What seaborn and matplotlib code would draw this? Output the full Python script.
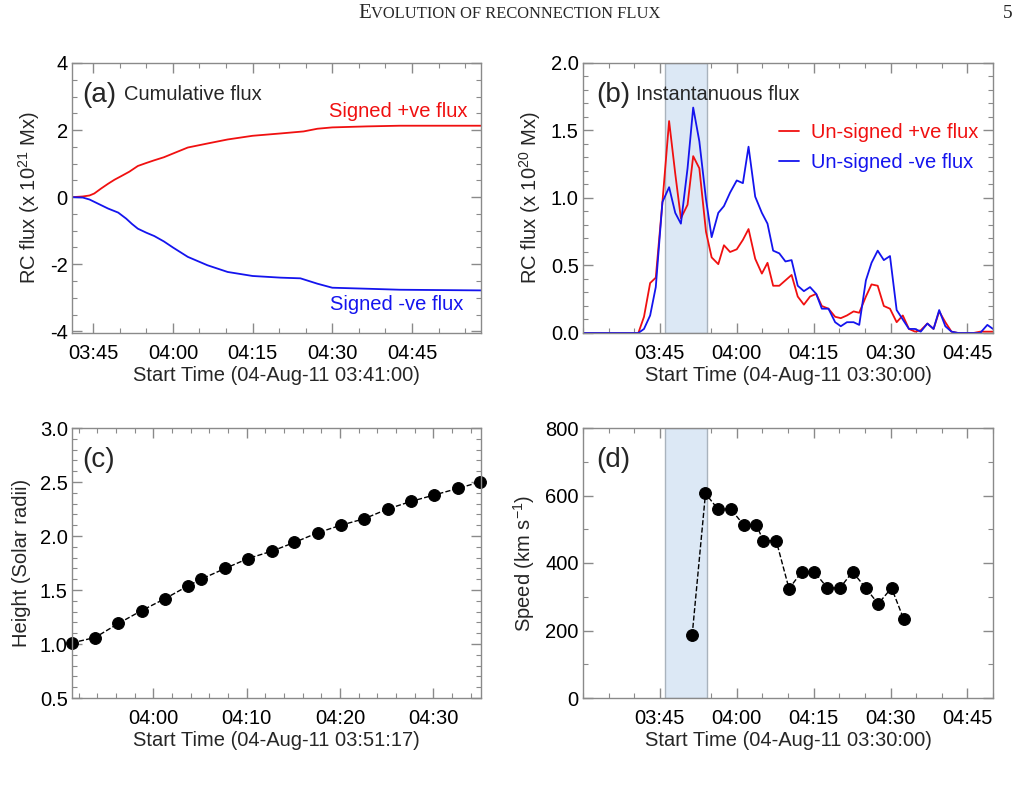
import matplotlib
matplotlib.use("Agg")
import matplotlib.pyplot as plt
from matplotlib.ticker import MultipleLocator, FixedLocator, FuncFormatter
import seaborn as sns

# times are minutes after 03:00 UT on 04-Aug-2011

# (a) cumulative flux (x 1e21 Mx)
a_time_pos = [41.0, 43.0, 44.3, 45.2, 46.5, 47.8, 49.0, 50.3, 51.8, 53.4, 55.0, 56.5,
              58.3, 60.0, 62.8, 66.5, 70.3, 75.0, 80.3, 84.6, 87.2, 90.0, 96.5, 102.7,
              118.0]
a_flux_pos = [0.0, 0.02, 0.05, 0.11, 0.26, 0.40, 0.52, 0.63, 0.76, 0.93, 1.02, 1.10,
              1.19, 1.30, 1.48, 1.60, 1.72, 1.83, 1.90, 1.96, 2.04, 2.08, 2.11, 2.13,
              2.13]
a_time_neg = [41.0, 43.0, 44.3, 46.5, 47.8, 49.7, 51.2, 52.3, 53.4, 55.0, 56.5, 58.3,
              60.0, 62.8, 66.5, 70.3, 75.0, 80.3, 84.0, 87.2, 90.0, 96.5, 102.7, 118.0]
a_flux_neg = [0.0, -0.01, -0.07, -0.24, -0.34, -0.46, -0.64, -0.80, -0.94, -1.06, -1.16,
              -1.32, -1.50, -1.78, -2.03, -2.23, -2.35, -2.40, -2.42, -2.58, -2.70, -2.73,
              -2.76, -2.78]

# (b) instantaneous flux (x 1e20 Mx)
b_time = [30.0, 39.6, 40.8, 41.9, 43.1, 44.2, 45.5, 46.8, 48.0, 49.1, 50.4, 51.5, 52.7,
          54.0, 55.1, 56.4, 57.5, 58.7, 60.0, 61.2, 62.3, 63.6, 64.9, 66.0, 67.1, 68.3,
          69.5, 70.7, 71.9, 73.1, 74.3, 75.5, 76.6, 77.9, 79.2, 80.3, 81.5, 82.8, 83.9,
          85.2, 86.3, 87.5, 88.7, 89.9, 91.2, 92.4, 93.6, 94.8, 95.9, 97.2, 98.4, 99.5,
          100.7, 101.9, 103.2, 104.9, 106.2, 107.5, 108.9, 110.0]
b_flux_pos = [0.0, 0.0, 0.0, 0.12, 0.37, 0.41, 0.97, 1.57, 1.18, 0.85, 0.95, 1.31, 1.22,
              0.75, 0.56, 0.51, 0.65, 0.60, 0.62, 0.69, 0.77, 0.55, 0.44, 0.52, 0.35, 0.35,
              0.39, 0.43, 0.27, 0.21, 0.27, 0.29, 0.20, 0.18, 0.12, 0.11, 0.13, 0.16, 0.15,
              0.27, 0.36, 0.35, 0.20, 0.18, 0.08, 0.13, 0.03, 0.01, 0.02, 0.07, 0.03, 0.16,
              0.08, 0.01, 0.0, 0.0, 0.0, 0.01, 0.01, 0.01]
b_flux_neg = [0.0, 0.0, 0.0, 0.03, 0.13, 0.34, 0.97, 1.08, 0.89, 0.81, 1.22, 1.67, 1.42,
              0.99, 0.71, 0.89, 0.94, 1.04, 1.13, 1.11, 1.38, 1.01, 0.89, 0.81, 0.61, 0.59,
              0.53, 0.54, 0.35, 0.31, 0.34, 0.29, 0.18, 0.18, 0.08, 0.05, 0.08, 0.08, 0.06,
              0.39, 0.52, 0.61, 0.54, 0.57, 0.17, 0.10, 0.03, 0.03, 0.01, 0.07, 0.03, 0.17,
              0.05, 0.01, 0.0, 0.0, 0.0, 0.0, 0.06, 0.03]

# (c) height-time
c_time = [51.25, 53.75, 56.25, 58.75, 61.25, 63.75, 65.1, 67.7, 70.1, 72.7, 75.1, 77.6,
          80.1, 82.6, 85.1, 87.6, 90.1, 92.6, 95.0]
c_height = [1.01, 1.06, 1.19, 1.31, 1.42, 1.54, 1.60, 1.70, 1.79, 1.86, 1.94, 2.03,
            2.10, 2.16, 2.25, 2.32, 2.38, 2.44, 2.50]

# (d) speed
d_time = [51.3, 53.9, 56.3, 58.8, 61.35, 63.8, 65.2, 67.7, 70.2, 72.7, 75.1, 77.7,
          80.15, 82.6, 85.15, 87.6, 90.2, 92.6]
d_speed = [186, 606, 560, 560, 513, 513, 466, 466, 324, 374, 374, 326, 326, 374, 326,
           279, 326, 233]

shade_span = (46.0, 54.1)

sns.set_style("ticks")
plt.rcParams["font.family"] = ["Liberation Sans", "DejaVu Sans"]
plt.rcParams["mathtext.fontset"] = "custom"
plt.rcParams["mathtext.rm"] = "Liberation Sans"
plt.rcParams["mathtext.it"] = "Liberation Sans"

RED = "#f01010"
BLUE = "#1414ee"
FRAME = "#8a8a8a"
FS = 14.5

W, H = 1018, 791
fig = plt.figure(figsize=(W / 100, H / 100), dpi=100)


def box(l, r, t, b):
    return [l / W, 1 - b / H, (r - l) / W, (b - t) / H]


def hhmm(v, pos):
    m = int(round(v))
    return f"{3 + m // 60:02d}:{m % 60:02d}"


def style(ax, xmaj, xmin, ymin_step, xlabel, ylabel):
    for s in ax.spines.values():
        s.set_color(FRAME)
        s.set_linewidth(1.0)
    ax.xaxis.set_major_locator(FixedLocator(xmaj))
    ax.xaxis.set_major_formatter(FuncFormatter(hhmm))
    ax.xaxis.set_minor_locator(MultipleLocator(xmin))
    ax.yaxis.set_minor_locator(MultipleLocator(ymin_step))
    ax.tick_params(which="both", direction="in", top=True, right=True, color=FRAME,
                   labelsize=FS, labelcolor="black")
    ax.tick_params(which="major", length=7, width=1)
    ax.tick_params(which="minor", length=3.5, width=0.8)
    ax.tick_params(axis="x", pad=8)
    ax.tick_params(axis="y", pad=3)
    ax.set_xlabel(xlabel, fontsize=FS, labelpad=2)
    ax.set_ylabel(ylabel, fontsize=FS, labelpad=6)


# (a)
ax = fig.add_axes(box(72, 481, 63, 333))
sns.lineplot(x=a_time_pos, y=a_flux_pos, ax=ax, color=RED, lw=1.3)
sns.lineplot(x=a_time_neg, y=a_flux_neg, ax=ax, color=BLUE, lw=1.3)
ax.set_xlim(41, 118)
ax.set_ylim(-4.05, 4.0)
ax.set_yticks([-4, -2, 0, 2, 4])
ax.set_yticklabels(["-4", "-2", "0", "2", "4"])
style(ax, [45, 60, 75, 90, 105], 5, 0.5, "Start Time (04-Aug-11 03:41:00)",
      "RC flux (x 10$^{21}$ Mx)")
ax.text(0.024, 0.88, "(a)", transform=ax.transAxes, fontsize=20, va="center")
ax.text(0.127, 0.885, "Cumulative flux", transform=ax.transAxes, fontsize=14.5,
        va="center")
ax.text(0.968, 0.822, "Signed +ve flux", transform=ax.transAxes, fontsize=FS,
        color=RED, ha="right", va="center")
ax.text(0.956, 0.104, "Signed -ve flux", transform=ax.transAxes, fontsize=FS,
        color=BLUE, ha="right", va="center")

# (b)
ax = fig.add_axes(box(583, 993, 63, 333))
ax.axvspan(*shade_span, facecolor="#dce8f5", edgecolor="#a9b3bd", lw=1)
sns.lineplot(x=b_time, y=b_flux_pos, ax=ax, color=RED, lw=1.3, label="Un-signed +ve flux")
sns.lineplot(x=b_time, y=b_flux_neg, ax=ax, color=BLUE, lw=1.3, label="Un-signed -ve flux")
ax.set_xlim(30, 110)
ax.set_ylim(0, 2.0)
ax.set_yticks([0, 0.5, 1.0, 1.5, 2.0])
ax.set_yticklabels(["0.0", "0.5", "1.0", "1.5", "2.0"])
style(ax, [45, 60, 75, 90, 105], 5, 0.1, "Start Time (04-Aug-11 03:30:00)",
      "RC flux (x 10$^{20}$ Mx)")
ax.legend(loc="upper left", bbox_to_anchor=(0.433, 0.845), frameon=False, fontsize=FS,
          labelcolor="linecolor", handlelength=1.0, handletextpad=0.6, labelspacing=0.55)
ax.text(0.032, 0.88, "(b)", transform=ax.transAxes, fontsize=20, va="center")
ax.text(0.129, 0.885, "Instantanuous flux", transform=ax.transAxes, fontsize=14.5,
        va="center")

# (c)
ax = fig.add_axes(box(72, 481, 428, 698))
sns.lineplot(x=c_time, y=c_height, ax=ax, color="black", lw=1, linestyle="--",
             marker="o", markersize=8.5, markeredgecolor="black", clip_on=False)
ax.set_xlim(51.28, 95.1)
ax.set_ylim(0.5, 3.0)
ax.set_yticks([0.5, 1.0, 1.5, 2.0, 2.5, 3.0])
ax.set_yticklabels(["0.5", "1.0", "1.5", "2.0", "2.5", "3.0"])
style(ax, [60, 70, 80, 90], 2, 0.1, "Start Time (04-Aug-11 03:51:17)",
      "Height (Solar radii)")
ax.text(0.024, 0.88, "(c)", transform=ax.transAxes, fontsize=20, va="center")

# (d)
ax = fig.add_axes(box(583, 993, 428, 698))
ax.axvspan(*shade_span, facecolor="#dce8f5", edgecolor="#a9b3bd", lw=1)
sns.lineplot(x=d_time, y=d_speed, ax=ax, color="black", lw=1, linestyle="--",
             marker="o", markersize=8.5, markeredgecolor="black")
ax.set_xlim(30, 110)
ax.set_ylim(0, 800)
ax.set_yticks([0, 200, 400, 600, 800])
style(ax, [45, 60, 75, 90, 105], 5, 100, "Start Time (04-Aug-11 03:30:00)",
      "Speed (km s$^{-1}$)")
ax.text(0.032, 0.88, "(d)", transform=ax.transAxes, fontsize=20, va="center")

# page header
serif = ["Liberation Serif", "DejaVu Serif"]
t1 = fig.text(358 / W, 1 - 13 / H, "E", family=serif, fontsize=15, va="center",
              ha="left")
ax.annotate("VOLUTION OF RECONNECTION FLUX", xy=(1.0, 0.0), xycoords=t1,
            va="bottom", ha="left", family=serif, fontsize=11.9, annotation_clip=False)
fig.text(1008 / W, 1 - 13 / H, "5", family=serif, fontsize=14, va="center", ha="center")

fig.savefig("out.png", dpi=100)
